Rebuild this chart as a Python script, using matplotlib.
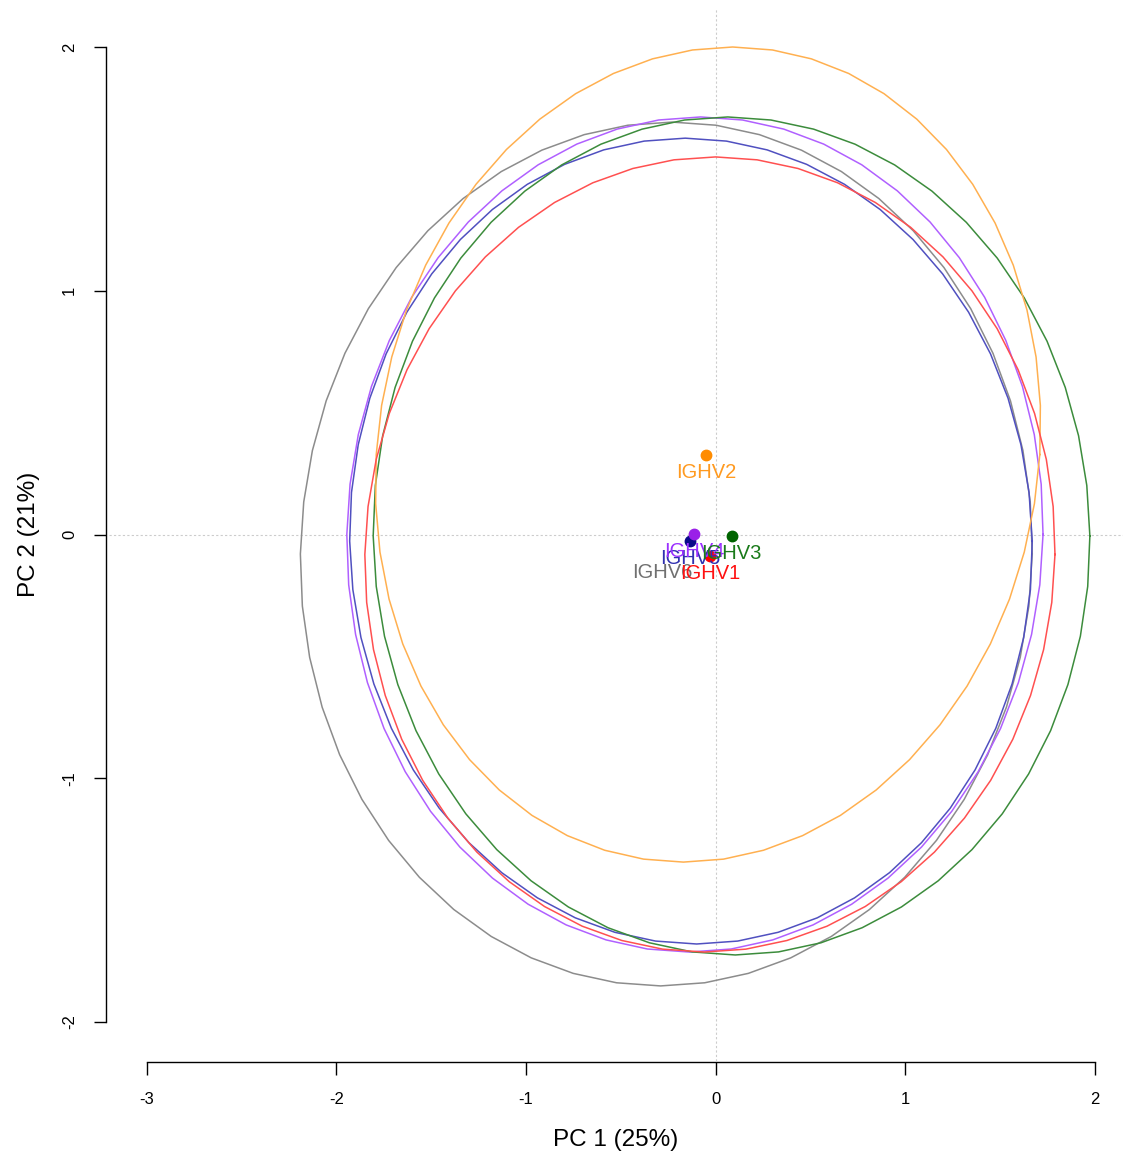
import numpy as np
import matplotlib
matplotlib.use("Agg")
import matplotlib.pyplot as plt

plt.rcParams['font.family'] = ['Liberation Sans', 'DejaVu Sans']

# Group data (PC1, PC2 group centres and ellipse geometry)
groups = ["IGHV6", "IGHV5", "IGHV4", "IGHV3", "IGHV2", "IGHV1"]
center_x = [-0.28, -0.135, -0.114, 0.085, -0.05, -0.03]
center_y = [-0.084, -0.027, 0.002, -0.006, 0.325, -0.088]
ell_cx = [-0.26, -0.13, -0.109, 0.084, -0.04, -0.03]
ell_cy = [-0.08, -0.027, 0.0, -0.006, 0.328, -0.082]
ell_rx = [1.93, 1.80, 1.836, 1.89, 1.75, 1.82]
ell_ry = [1.772, 1.653, 1.713, 1.719, 1.672, 1.631]
ell_skew = [0.03, -0.03, 0.03, -0.02, 0.13, 0.03]
line_colors = ["#8c8c8c", "#5050c0", "#b060ff", "#3c8c3c", "#ffb050", "#ff5050"]
point_colors = ["none", "#0a0a8a", "#9a20e8", "#006400", "#ff8c00", "#ff0000"]
label_colors = ["#707070", "#3030b0", "#9b30ff", "#1a7a1a", "#ff9a20", "#ff1010"]

xticks = [-3, -2, -1, 0, 1, 2]
yticks = [-2, -1, 0, 1, 2]

fig = plt.figure(figsize=(11.24, 11.56), dpi=100)
W, H = 1124, 1156
x0px, xs = 715.6, 189.6
y0px, ys = 534.5, 243.75
xlim = (-3.2, 2.15)
ylim = (-2.16, 2.16)
left = (x0px + xlim[0] * xs) / W
right = (x0px + xlim[1] * xs) / W
top = 1 - (y0px - ylim[1] * ys) / H
bottom = 1 - (y0px - ylim[0] * ys) / H
ax = fig.add_axes([left, bottom, right - left, top - bottom])
ax.set_xlim(*xlim)
ax.set_ylim(*ylim)

ax.axhline(0, color="#cccccc", lw=0.8, ls=(0, (2, 2)), zorder=0)
ax.axvline(0, color="#cccccc", lw=0.8, ls=(0, (2, 2)), zorder=0)

t = np.linspace(0, 2 * np.pi, 53)
for i in range(len(groups)):
    ex = ell_cx[i] + ell_rx[i] * np.cos(t) + ell_skew[i] * np.sin(t)
    ey = ell_cy[i] + ell_ry[i] * np.sin(t)
    ax.plot(ex, ey, color=line_colors[i], lw=1.1, zorder=1)

for i in range(len(groups)):
    if point_colors[i] != "none":
        ax.plot(center_x[i], center_y[i], 'o', color=point_colors[i], ms=7.5, zorder=3)
for i in range(len(groups)):
    ax.annotate(groups[i], (center_x[i], center_y[i]), xytext=(0, -12.5),
                textcoords='offset points', ha='center', va='center',
                color=label_colors[i], fontsize=14.5, zorder=4)

for s in ["top", "right"]:
    ax.spines[s].set_visible(False)
ax.spines["bottom"].set_bounds(-3, 2)
ax.spines["left"].set_bounds(-2, 2)
ax.spines["bottom"].set_position(("outward", 1))
ax.spines["left"].set_position(("outward", 2))
for s in ["bottom", "left"]:
    ax.spines[s].set_linewidth(1.0)
ax.set_xticks(xticks)
ax.set_yticks(yticks)
ax.set_xticklabels([str(v) for v in xticks])
ax.set_yticklabels([str(v) for v in yticks], rotation=90, va='center')
ax.tick_params(axis='both', length=9, width=1.0, labelsize=12, pad=12)
ax.set_xlabel("PC 1 (25%)", fontsize=17.5, labelpad=16)
ax.set_ylabel("PC 2 (21%)", fontsize=17.5, labelpad=16)
ax.patch.set_alpha(0)

fig.savefig("out.png", dpi=100)
